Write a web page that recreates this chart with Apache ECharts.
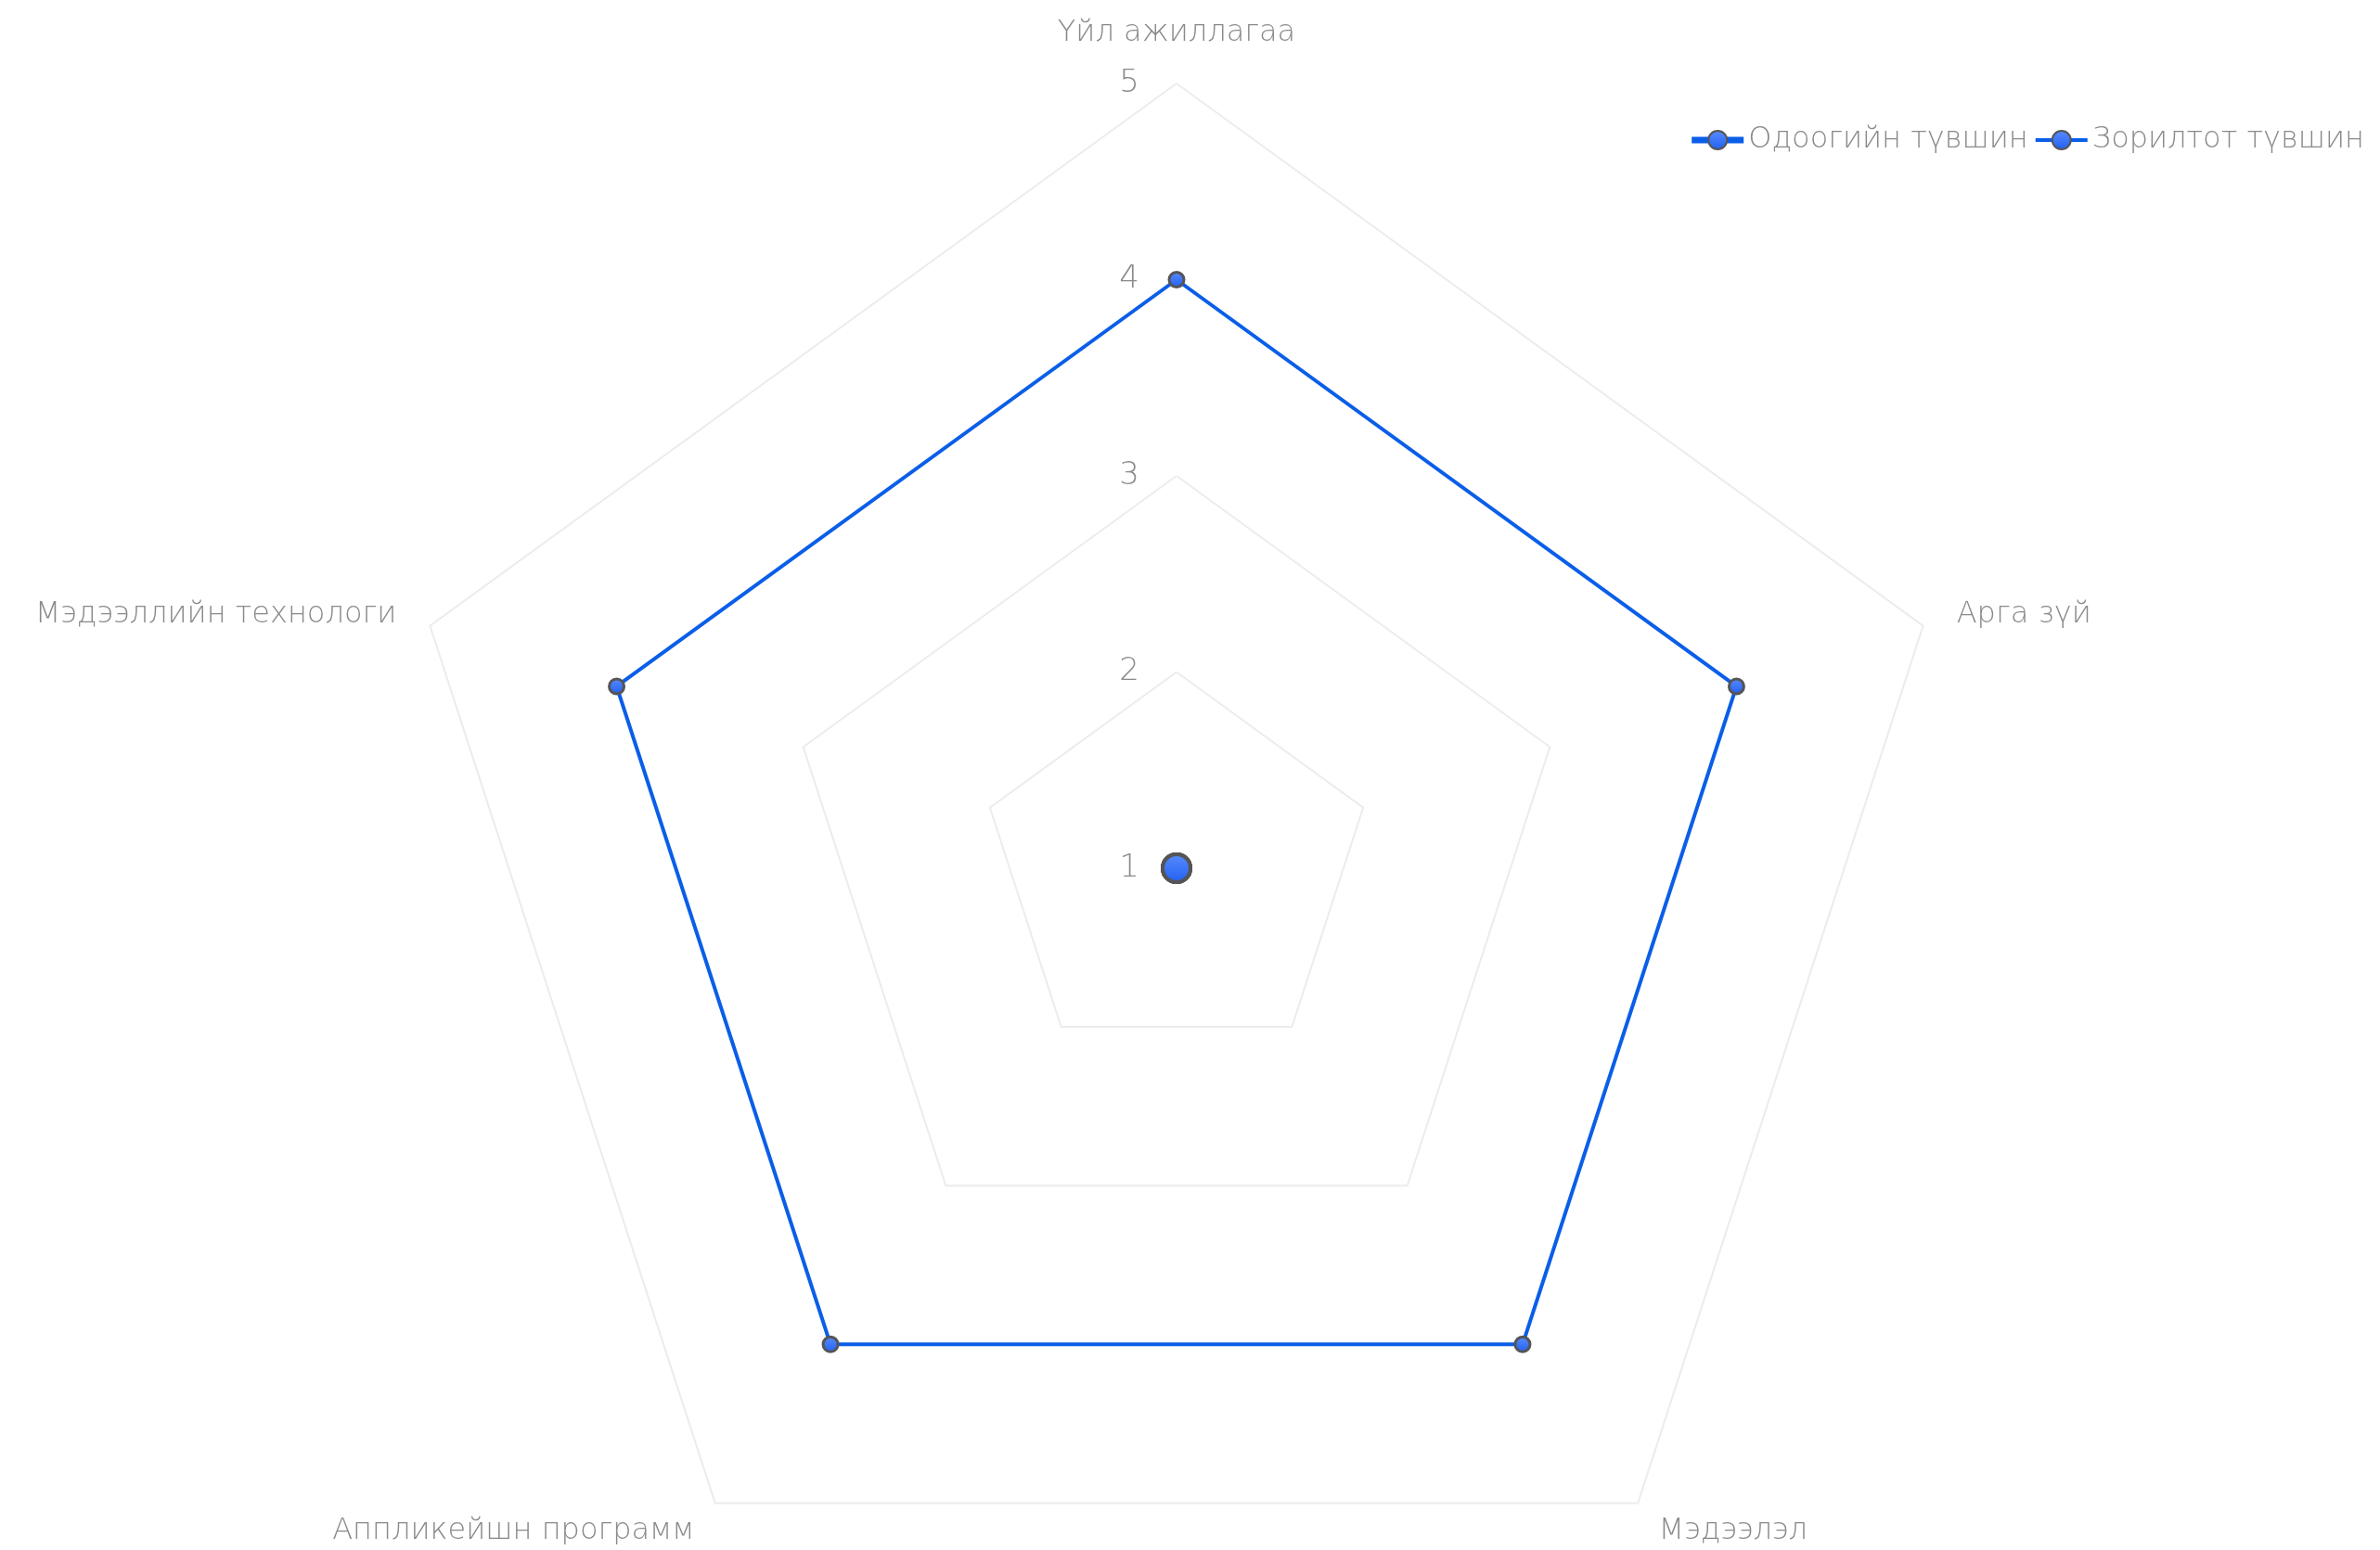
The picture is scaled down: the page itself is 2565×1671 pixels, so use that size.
<!DOCTYPE html>
<html><head><meta charset="utf-8">
<script src="https://cdn.jsdelivr.net/npm/echarts@6/dist/echarts.min.js"></script>
<style>html,body{margin:0;padding:0;background:#fff}#c{width:2565px;height:1671px}</style>
</head><body><div id="c"></div>
<script>
// indicators listed in ECharts (counter-clockwise) order so that the picture reads clockwise
const indicatorNames = ['Үйл ажиллагаа', 'Мэдээллийн технологи', 'Аппликейшн программ', 'Мэдээлэл', 'Арга зүй'];
const currentLevel = [1, 1, 1, 1, 1];
const targetLevel = [4, 4, 4, 4, 4];
const seriesNames = ['Одоогийн түвшин', 'Зорилтот түвшин'];
const scaleMin = 1, scaleMax = 5;

const chart = echarts.init(document.getElementById('c'));
const fill = new echarts.graphic.LinearGradient(0, 0, 0, 1, [
  {offset: 0, color: '#5a8cff'}, {offset: 1, color: '#1f5ff0'}
]);
const font = 'DejaVu Sans';
const txt = '#8a8a8a';
const styles = [
  {line: {color: '#0a5ee8', width: 6}, item: {color: fill, borderColor: '#555', borderWidth: 4}, size: 30, legendLine: 7},
  {line: {color: '#0a5ee8', width: 4}, item: {color: fill, borderColor: '#555', borderWidth: 3}, size: 16, legendLine: 4}
];
chart.setOption({
  backgroundColor: '#fff',
  legend: {
    right: 12, top: 130,
    itemGap: 6, itemWidth: 56, itemHeight: 25,
    textStyle: {color: txt, fontSize: 32, fontFamily: font, fontWeight: 300},
    data: seriesNames.map((n, i) => ({name: n, lineStyle: {width: styles[i].legendLine}}))
  },
  // hidden grid only so the legend can show line-style icons
  grid: {show: false, left: 0, top: 0, width: 1, height: 1},
  xAxis: {show: false, type: 'category', data: []},
  yAxis: {show: false, type: 'value'},
  radar: {
    center: [1268, 936], radius: 846,
    startAngle: 90, splitNumber: 4, shape: 'polygon',
    indicator: indicatorNames.map((n, i) => ({
      name: n, min: scaleMin, max: scaleMax,
      axisLabel: i === 0 ? {show: true} : {show: false}
    })),
    axisName: {color: txt, fontSize: 32, fontFamily: font, fontWeight: 300},
    nameGap: 38,
    axisLine: {show: false},
    splitLine: {lineStyle: {color: '#ececec', width: 2}},
    splitArea: {show: false},
    axisLabel: {show: false, color: txt, fontSize: 34, fontFamily: font, fontWeight: 300, margin: 40}
  },
  series: [{
    type: 'radar',
    z: 3,
    data: [{
      name: seriesNames[0], value: currentLevel,
      symbol: 'circle', symbolSize: styles[0].size,
      lineStyle: styles[0].line, itemStyle: styles[0].item
    }, {
      name: seriesNames[1], value: targetLevel,
      symbol: 'circle', symbolSize: styles[1].size,
      lineStyle: styles[1].line, itemStyle: styles[1].item
    }]
  },
  {type: 'line', name: seriesNames[0], data: [], symbol: 'circle', lineStyle: styles[0].line, itemStyle: styles[0].item},
  {type: 'line', name: seriesNames[1], data: [], symbol: 'circle', lineStyle: styles[1].line, itemStyle: styles[1].item}
  ]
});
</script></body></html>
